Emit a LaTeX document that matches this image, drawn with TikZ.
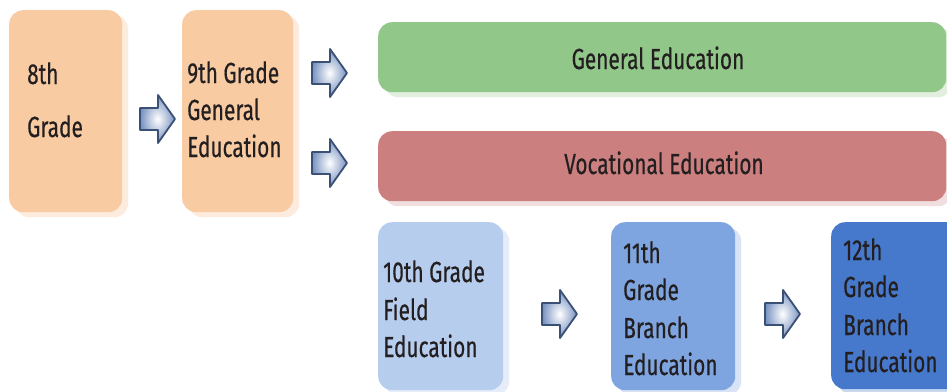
\documentclass[tikz,border=0pt]{standalone}
\usepackage{fontspec}
\setmainfont{Fira Sans}[FakeStretch=0.72,FakeBold=0.4]
\usetikzlibrary{shadows,calc}
\definecolor{peach}{HTML}{F8CBA3}
\definecolor{peachs}{HTML}{FDEBDD}
\definecolor{green1}{HTML}{92C78A}
\definecolor{green1s}{HTML}{E2EFDF}
\definecolor{red1}{HTML}{CC7F7F}
\definecolor{red1s}{HTML}{F1DEDE}
\definecolor{blue1}{HTML}{B6CDEE}
\definecolor{blue1s}{HTML}{E6EDF9}
\definecolor{blue2}{HTML}{7EA5DF}
\definecolor{blue2s}{HTML}{D8E3F5}
\definecolor{blue3}{HTML}{4678CB}
\definecolor{blue3s}{HTML}{C9D7EF}
\definecolor{txt}{HTML}{231F20}
\definecolor{arrowfill}{HTML}{7791C0}
\definecolor{arrowline}{HTML}{3A5075}
\tikzset{
  box/.style={rectangle, rounded corners=14pt, draw=none, anchor=north west, inner sep=0pt},
  shad/.style={general shadow={fill=#1, shadow xshift=6pt, shadow yshift=-5pt}},
  lbl/.style={anchor=base west, inner sep=0pt, text=txt, font=\fontsize{29}{37}\selectfont},
  clbl/.style={anchor=base, inner sep=0pt, text=txt, font=\fontsize{29}{37}\selectfont},
  barrow/.pic={\shade[inner color=white, outer color=arrowfill, draw=arrowline, line width=1.8pt, line join=round]
     (-17,-11) -- (1,-11) -- (1,-24) -- (18,0) -- (1,24) -- (1,11) -- (-17,11) -- cycle;}
}
\begin{document}
\begin{tikzpicture}[x=1pt,y=-1pt]
\clip (0,0) rectangle (947,391);
\fill[white] (0,0) rectangle (947,391);
% boxes
\node[box, shad=peachs, fill=peach, minimum width=113pt, minimum height=202pt] (b8) at (9,10) {};
\node[box, shad=peachs, fill=peach, minimum width=111pt, minimum height=202pt] (b9) at (182,10) {};
\node[box, shad=green1s, fill=green1, minimum width=568pt, minimum height=70pt] (bg) at (378,22) {};
\node[box, shad=red1s, fill=red1, minimum width=568pt, minimum height=70pt] (bv) at (378,131) {};
\node[box, shad=blue1s, fill=blue1, minimum width=125pt, minimum height=168pt] (b10) at (378,222) {};
\node[box, shad=blue2s, fill=blue2, minimum width=124pt, minimum height=168pt] (b11) at (611,222) {};
\node[box, shad=blue3s, fill=blue3, minimum width=140pt, minimum height=167pt] (b12) at (831,222) {};
% arrows
\pic at (157,119) {barrow};
\pic at (329,73) {barrow};
\pic at (329,163) {barrow};
\pic at (559,314) {barrow};
\pic at (782,314) {barrow};
% texts
\node[lbl] (t8a) at (27,84) {8th};
\node[lbl] (t8b) at (27,137) {Grade};
\node[lbl] (t9a) at (187,83) {9th Grade};
\node[lbl] (t9b) at (187,120) {General};
\node[lbl] (t9c) at (187,157) {Education};
\node[clbl] (tg) at (658,69) {General Education};
\node[clbl] (tv) at (664,174) {Vocational Education};
\node[lbl] (t10a) at (383,282) {10th Grade};
\node[lbl] (t10b) at (383,320) {Field};
\node[lbl] (t10c) at (383,357) {Education};
\node[lbl] (t11a) at (623,263) {11th};
\node[lbl] (t11b) at (623,300) {Grade};
\node[lbl] (t11c) at (623,338) {Branch};
\node[lbl] (t11d) at (623,375) {Education};
\node[lbl] (t12a) at (843,260) {12th};
\node[lbl] (t12b) at (843,297) {Grade};
\node[lbl] (t12c) at (843,335) {Branch};
\node[lbl] (t12d) at (843,372) {Education};
\end{tikzpicture}
\end{document}
